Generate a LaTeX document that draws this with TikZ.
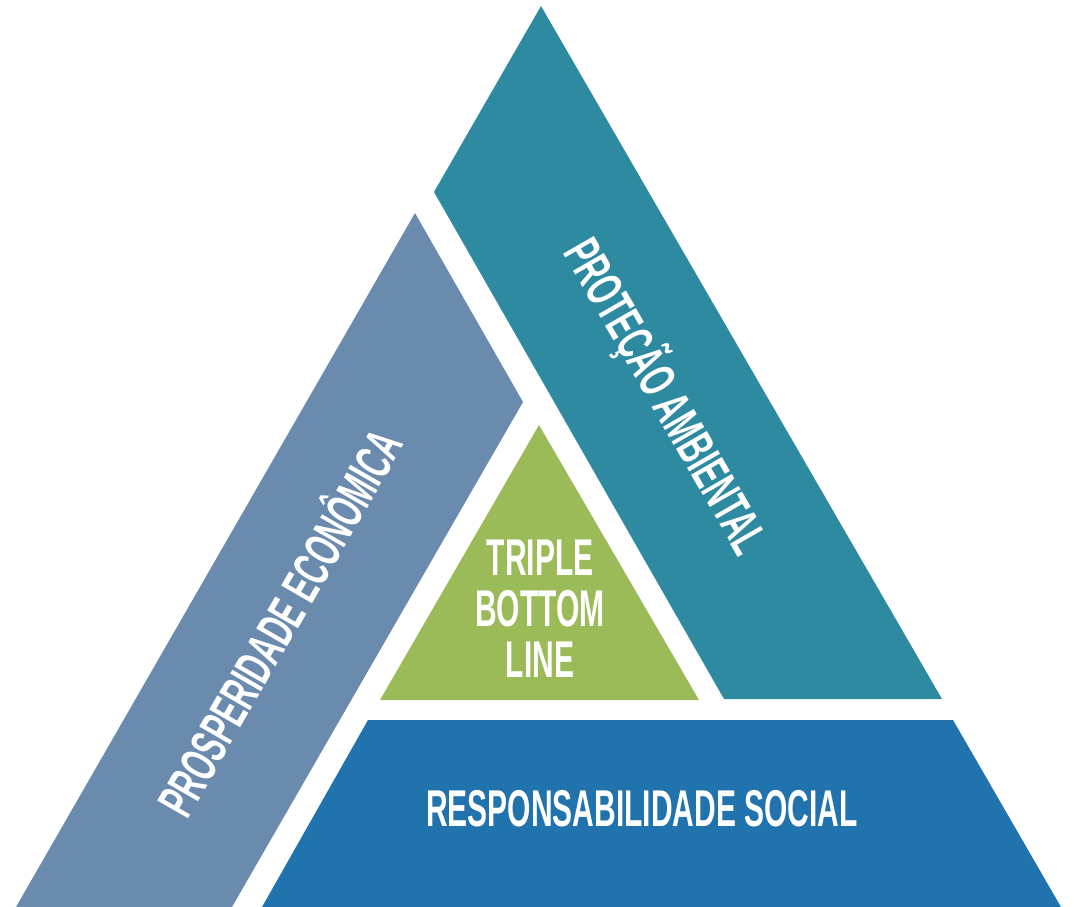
\documentclass[tikz,border=0pt]{standalone}
\usepackage{fontspec}
\usepackage{xcolor}
\newfontfamily\tblfont{Liberation Sans}[FakeStretch=0.58,UprightFont=* Bold]
\definecolor{ambiental}{RGB}{46,138,160}
\definecolor{economica}{RGB}{106,139,174}
\definecolor{social}{RGB}{32,115,172}
\definecolor{tbl}{RGB}{155,187,89}

\begin{document}
\begin{tikzpicture}[x=1pt,y=1pt,yscale=-1,
    lbl/.style={text=white,inner sep=0pt,font=\tblfont\fontsize{51.7}{51}\selectfont},
    capline/.style={text height=37pt,text depth=0pt}]
        \useasboundingbox (0,0) rectangle (1076,907);

        %Shape: Polygon [protecao ambiental]
        \fill [ambiental] (541,6) -- (434,192) -- (724,699) -- (942,699) -- cycle ;
        %Shape: Polygon [prosperidade economica]
        \fill [economica] (415,213) -- (523,402) -- (232,907) -- (16,907) -- cycle ;
        %Shape: Polygon [responsabilidade social]
        \fill [social] (368,720) -- (953,720) -- (1061,907) -- (262,907) -- cycle ;
        %Shape: Triangle [triple bottom line]
        \fill [tbl] (539,425) -- (699,700) -- (380,700) -- cycle ;

        % Text Node
        \node [lbl,capline,rotate=-60] (ambtxt) at (667,396) {PROTEÇÃO AMBIENTAL};
        % Text Node
        \node [lbl,capline,rotate=60] (ecotxt) at (280,623) {PROSPERIDADE ECONÔMICA};
        % Text Node
        \node [lbl,capline] (soctxt) at (642,808) {RESPONSABILIDADE SOCIAL};
        % Text Node
        \node [lbl,align=center] (tbltxt) at (540,609) {TRIPLE\\BOTTOM\\LINE};

\end{tikzpicture}
\end{document}
